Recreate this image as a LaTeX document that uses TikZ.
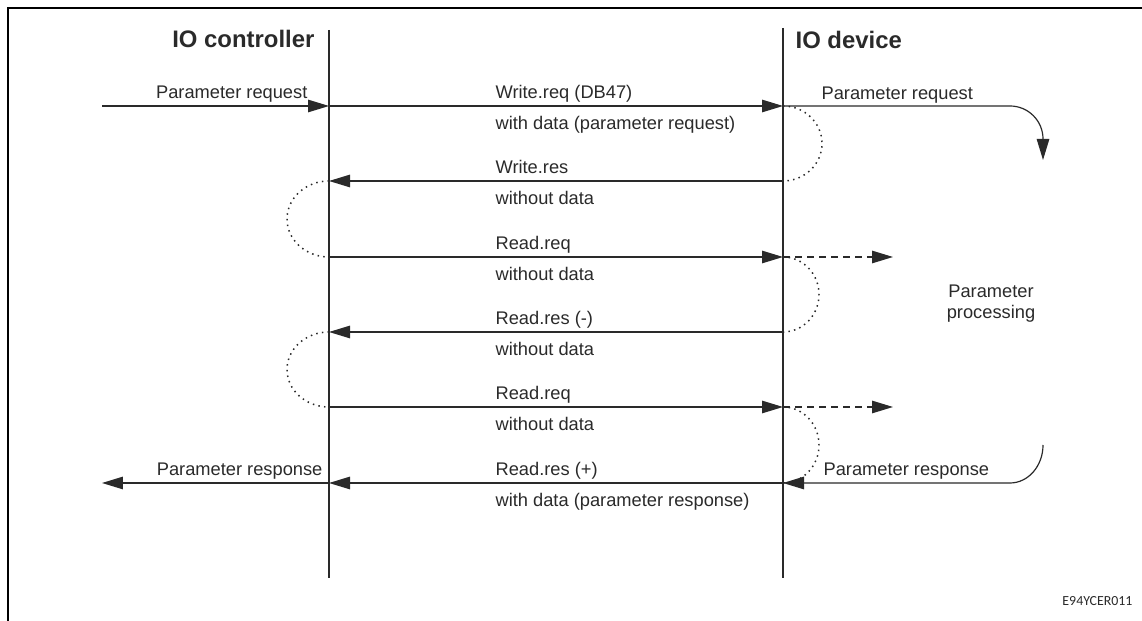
\documentclass[tikz,border=0pt]{standalone}
\usepackage{fontspec}
\setmainfont{Liberation Sans}
\newfontfamily\codefont{Carlito}
\usetikzlibrary{arrows.meta}
\definecolor{ink}{HTML}{2A2A2A}
% message texts above and below a line: y, name, above, below
\newcommand{\msgtext}[4]{%
  \node[lbl] (#2a) at (495,{#1+7}) {#3};
  \node[lbl] (#2b) at (495,{#1-24}) {#4};}
\begin{document}
\begin{tikzpicture}[x=0.02cm,y=0.02cm,line width=0.68pt,ink,
    font=\fontsize{10.4}{12}\selectfont,
    lbl/.style={anchor=base west,inner sep=0pt},
    title/.style={font=\bfseries\fontsize{13.6}{16}\selectfont,inner sep=0pt},
    arr/.style={-{Triangle[length=0.42cm,width=0.25cm]}},
    turnaround/.style={line width=0.85pt,dash pattern=on 0.85pt off 2.4pt},
    fwd/.style={dash pattern=on 0.14cm off 0.1cm},
    life/.style={line width=0.9pt}]
  \useasboundingbox (0,0) rectangle (1142,621);
  % frame, open to the right and at the bottom
  \draw[black,line width=1.4pt] (8,0) -- (8,613) -- (1142,613);
  % life lines
  \coordinate (ctop) at (329,591); \coordinate (cbot) at (329,43);
  \coordinate (dtop) at (783,593); \coordinate (dbot) at (783,43);
  \draw[life] (ctop) -- (cbot);
  \draw[life] (dtop) -- (dbot);
  \node[title,anchor=base east] (ctrl) at (315,573) {IO controller};
  \node[title,anchor=base west] (dev) at (795,572) {IO device};
  \foreach \n/\y in {1/515,2/440,3/364,4/289,5/214,6/138}{
    \coordinate (c\n) at (329,\y);
    \coordinate (d\n) at (783,\y);
  }
  % request in
  \coordinate (reqin) at (102,515);
  \coordinate (reqbend) at (1010,515);
  \coordinate (reqout) at (1043,461);
  \draw[arr] (reqin) -- (c1);
  \draw[arr] (c1) -- (d1);
  \draw[arr] (d1) -- (reqbend) arc[start angle=90,end angle=0,radius=33] -- (reqout);
  \draw[arr] (d2) -- (c2);
  \draw[arr] (c3) -- (d3);
  \draw[arr] (d4) -- (c4);
  \draw[arr] (c5) -- (d5);
  % polling on the device side
  \coordinate (polla) at (893,364);
  \coordinate (pollb) at (893,214);
  \draw[arr,fwd] (d3) -- (polla);
  \draw[arr,fwd] (d5) -- (pollb);
  % response out
  \coordinate (rspin) at (1043,176);
  \coordinate (rspout) at (102,138);
  \draw[arr] (rspin) arc[start angle=0,end angle=-90,x radius=33,y radius=38] -- (d6);
  \draw[arr] (d6) -- (c6);
  \draw[arr] (c6) -- (rspout);
  % turnarounds
  \draw[turnaround] (d1) arc[start angle=90,end angle=-90,x radius=39,y radius=37.5];
  \draw[turnaround] (c2) arc[start angle=90,end angle=270,x radius=42,y radius=38];
  \draw[turnaround] (d3) arc[start angle=90,end angle=-90,x radius=36,y radius=37.5];
  \draw[turnaround] (c4) arc[start angle=90,end angle=270,x radius=42,y radius=37.5];
  \draw[turnaround] (d5) arc[start angle=90,end angle=-90,x radius=36,y radius=38];
  \msgtext{515}{wreq}{Write.req (DB47)}{with data (parameter request)}
  \msgtext{440}{wres}{Write.res}{without data}
  \msgtext{364}{rreqa}{Read.req}{without data}
  \msgtext{289}{rresa}{Read.res (-)}{without data}
  \msgtext{214}{rreqb}{Read.req}{without data}
  \msgtext{138}{rresb}{Read.res (+)}{with data (parameter response)}
  \node[lbl,anchor=base east] (prqin) at (308,522) {Parameter request};
  \node[lbl] (prqout) at (821,521) {Parameter request};
  \node[lbl,anchor=base east] (prsout) at (323,145) {Parameter response};
  \node[lbl] (prsin) at (823,145) {Parameter response};
  \node[align=center,inner sep=0pt] (proc) at (991,317) {Parameter\\processing};
  \node[font=\codefont\fontsize{7.9}{9}\selectfont,anchor=base east,inner sep=0pt]
    (figid) at (1133,15) {E94YCER011};
\end{tikzpicture}
\end{document}
